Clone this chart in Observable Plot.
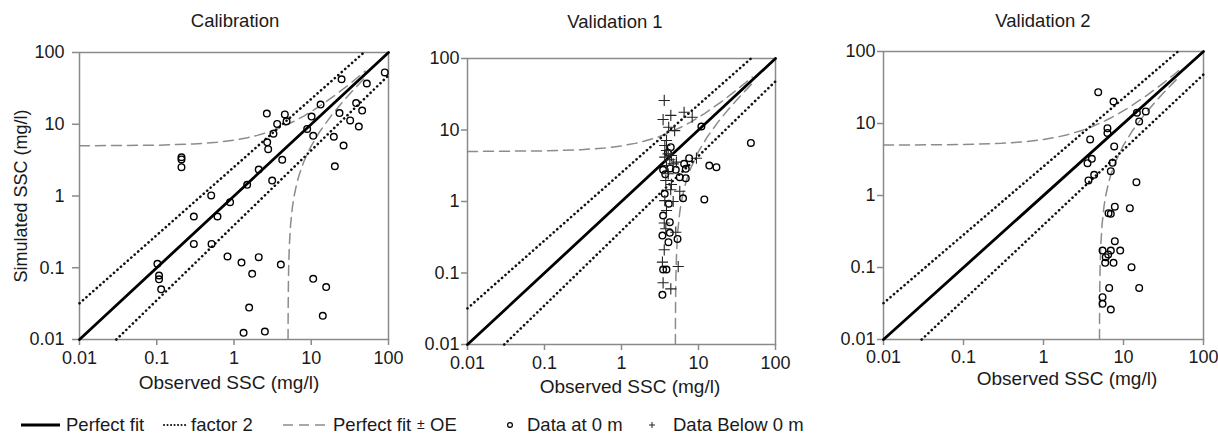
<!DOCTYPE html>
<html><head><meta charset="utf-8">
<script src="https://cdn.jsdelivr.net/npm/d3@7"></script>
<script src="https://cdn.jsdelivr.net/npm/@observablehq/plot@0.6"></script>
<style>
body{margin:0;background:#fff;}
#wrap{position:relative;width:1218px;height:435px;overflow:hidden;font-family:"Liberation Sans",Arial,sans-serif;background:#fff;}
.panel{position:absolute;top:0;}
#overlay{position:absolute;left:0;top:0;}
</style></head><body><div id="wrap"></div>
<script>
// ---- data ----
const tickValues = [0.01, 0.1, 1, 10, 100];
const tickLabels = ["0.01", "0.1", "1", "10", "100"];
const titles = ["Calibration", "Validation 1", "Validation 2"];
const xLabel = "Observed SSC (mg/l)";
const yLabel = "Simulated SSC (mg/l)";
const legendLabels = ["Perfect fit", "factor 2", "Perfect fit", "OE", "Data at 0 m", "Data Below 0 m"];

const OE = 5;
const perfectObs = [0.01, 100];
const factorUpperObs = [0.01, 48];
const factorUpperSim = [0.032, 100];
const factorLowerObs = [0.03, 100];
const factorLowerSim = [0.01, 48];
const oeUpperObs = [0.01, 0.1, 0.3, 0.6, 1, 1.5, 2, 3, 4, 6, 8, 12, 20, 30, 50];
const oeLowerObs = [5.01, 5.02, 5.05, 5.1, 5.2, 5.4, 5.7, 6, 6.5, 7, 8, 10, 13, 18, 25, 35, 50];

const calObs = [2.66, 4.55, 4.79, 3.62, 3.24, 2.69, 2.77, 2.09, 4.21, 3.12, 1.48, 0.507, 0.89, 0.209, 0.209, 0.209, 8.85, 10.1, 13.2, 10.6, 24.7, 89.5, 52.4, 38.1, 23.2, 45.6, 31.9, 41.3, 19.6, 26.2, 20.2, 0.302, 0.611, 0.302, 0.512, 0.102, 0.107, 0.107, 0.114, 0.824, 1.25, 2.09, 1.72, 4.04, 1.57, 1.33, 2.51, 10.6, 15.6, 14.1];
const calSim = [14.1, 13.7, 11.0, 10.1, 7.4, 5.6, 4.5, 2.34, 3.2, 1.64, 1.43, 1.02, 0.82, 3.47, 3.23, 2.52, 8.6, 12.8, 18.8, 6.9, 42.4, 52.7, 37, 19.7, 14.3, 15.5, 11.3, 9.3, 6.7, 5.06, 2.6, 0.518, 0.518, 0.215, 0.215, 0.1135, 0.078, 0.069, 0.050, 0.1436, 0.118, 0.1406, 0.0824, 0.111, 0.0279, 0.0124, 0.0129, 0.070, 0.0537, 0.0214];

const v1Obs = [10.9, 47.9, 13.8, 17.1, 11.9, 7.56, 6.5, 6.84, 6.84, 5.7, 6.3, 5.07, 4.36, 3.47, 3.64, 4.11, 3.47, 4.24, 4.24, 3.4, 4.07, 5.34, 3.47, 3.84, 3.4, 4.0, 3.7, 4.3];
const v1Sim = [11.2, 6.6, 3.18, 3.02, 1.07, 4.03, 3.36, 2.86, 2.12, 2.19, 1.11, 2.77, 5.75, 2.77, 1.28, 0.93, 0.637, 0.514, 0.365, 0.334, 0.27, 0.30, 0.112, 0.112, 0.0495, 4.8, 2.4, 2.9];
const v1BelowObs = [3.59, 4.37, 3.47, 6.5, 8.28, 4.1, 4.9, 3.84, 3.65, 3.84, 4.04, 4.45, 3.65, 4.24, 4.69, 5.17, 3.84, 4.04, 3.76, 4.36, 5.71, 4.69, 3.65, 9.4, 4.45, 3.59, 3.59, 3.4, 5.45, 3.47, 4.37, 5.07, 3.84, 3.76];
const v1BelowSim = [25.9, 16, 14, 17.7, 15.1, 10.9, 9.8, 7.13, 6.07, 5.17, 4.64, 4.4, 4.17, 3.83, 3.36, 3.55, 3.19, 2.44, 1.97, 1.46, 1.39, 1.0, 1.03, 4.03, 1.73, 0.50, 0.211, 0.142, 0.123, 0.073, 0.060, 0.372, 0.75, 0.415];

const v2Obs = [4.83, 7.5, 14.7, 19.0, 15.7, 6.3, 6.3, 3.83, 7.65, 4.02, 3.55, 7.3, 6.94, 4.3, 3.65, 14.5, 7.79, 12.0, 6.5, 6.94, 7.79, 5.47, 6.94, 9.1, 6.44, 6.0, 5.9, 7.5, 12.6, 6.62, 15.7, 5.47, 5.47, 6.94];
const v2Sim = [27.2, 20.2, 14.1, 14.7, 10.7, 8.6, 7.4, 6.0, 4.8, 3.23, 2.81, 2.84, 2.18, 1.94, 1.62, 1.53, 0.70, 0.667, 0.568, 0.557, 0.232, 0.172, 0.172, 0.172, 0.152, 0.139, 0.116, 0.116, 0.101, 0.052, 0.052, 0.0387, 0.0313, 0.0261];

// ---- helpers ----
const zip = (xs, ys) => xs.map((x, i) => ({x, y: ys[i]}));
const fmt = d => tickLabels[tickValues.findIndex(v => Math.abs(v - d) < v * 1e-6)];
const FONT = "'Liberation Sans', Arial, Helvetica, sans-serif";
const GREY = "#8a8a8a";
const DOT_STYLE = {strokeDasharray: "0.1,4.5", strokeLinecap: "round", strokeWidth: 2.6, stroke: "#111"};
const DASH_STYLE = {strokeDasharray: "10,6", strokeWidth: 1.5, stroke: "#8c8c8c"};

const panels = [
  {left: 0, margin: {l: 79, r: 18, t: 52, b: 61}, ySize: 7, yPad: 8, xPad: 6, circles: zip(calObs, calSim), plus: []},
  {left: 406, margin: {l: 61, r: 37, t: 58, b: 56}, ySize: 6, yPad: 2, xPad: 6, circles: zip(v1Obs, v1Sim), plus: zip(v1BelowObs, v1BelowSim)},
  {left: 812, margin: {l: 71, r: 15, t: 51, b: 61}, ySize: 6, yPad: 2, xPad: 5, circles: zip(v2Obs, v2Sim), plus: []}
];

const wrap = document.getElementById("wrap");

panels.forEach((p) => {
  const chart = Plot.plot({
    width: 406,
    height: 400,
    marginLeft: p.margin.l,
    marginRight: p.margin.r,
    marginTop: p.margin.t,
    marginBottom: p.margin.b,
    style: {fontFamily: FONT, fontSize: "18px", background: "transparent", color: "#1a1a1a", overflow: "visible"},
    x: {type: "log", domain: [0.01, 100]},
    y: {type: "log", domain: [0.01, 100]},
    marks: [
      Plot.axisX(tickValues, {tickFormat: fmt, tickSize: 6, tickPadding: p.xPad, fontSize: 18, stroke: GREY, strokeWidth: 1.5, fill: "#1a1a1a", label: null}),
      Plot.axisY(tickValues, {tickFormat: fmt, tickSize: p.ySize, tickPadding: p.yPad, fontSize: 18, stroke: GREY, strokeWidth: 1.5, fill: "#1a1a1a", label: null}),
      Plot.frame({stroke: GREY, strokeWidth: 1.5}),
      Plot.line(oeUpperObs.map(x => ({x, y: x + OE})), {x: "x", y: "y", ...DASH_STYLE}),
      Plot.line(oeLowerObs.map(x => ({x, y: x - OE})), {x: "x", y: "y", ...DASH_STYLE, clip: true}),
      Plot.line(zip(factorUpperObs, factorUpperSim), {x: "x", y: "y", ...DOT_STYLE}),
      Plot.line(zip(factorLowerObs, factorLowerSim), {x: "x", y: "y", ...DOT_STYLE}),
      Plot.line(zip(perfectObs, perfectObs), {x: "x", y: "y", stroke: "#000", strokeWidth: 2.8}),
      Plot.dot(p.circles, {x: "x", y: "y", r: 3.3, stroke: "#000", strokeWidth: 1.4, fill: "none"}),
      Plot.dot(p.plus, {x: "x", y: "y", symbol: "plus", r: 3.7, stroke: "#222", strokeWidth: 1.1})
    ]
  });
  const div = document.createElement("div");
  div.className = "panel";
  div.style.left = p.left + "px";
  div.appendChild(chart);
  wrap.appendChild(div);
});

// ---- titles, axis labels and legend ----
const svg = d3.select(wrap).append("svg").attr("id", "overlay")
  .attr("width", 1218).attr("height", 435)
  .style("font-family", FONT).style("overflow", "visible");

const titlePos = [[235, 27], [615, 28], [1043, 27]];
titles.forEach((t, i) => svg.append("text").attr("x", titlePos[i][0]).attr("y", titlePos[i][1])
  .attr("text-anchor", "middle").attr("font-size", 18.5).attr("fill", "#1a1a1a").text(t));

const xLabelPos = [[229, 389], [630, 393], [1067, 385]];
xLabelPos.forEach(([x, y]) => svg.append("text").attr("x", x).attr("y", y)
  .attr("text-anchor", "middle").attr("font-size", 19).attr("fill", "#1a1a1a").text(xLabel));

svg.append("text").attr("transform", "translate(27,196) rotate(-90)")
  .attr("text-anchor", "middle").attr("font-size", 18).attr("fill", "#1a1a1a").text(yLabel);

// legend
const ly = 425, lb = 431;
const lg = svg.append("g").attr("font-size", 18.5).attr("fill", "#1a1a1a");
lg.append("line").attr("x1", 21).attr("x2", 60).attr("y1", ly).attr("y2", ly).attr("stroke", "#000").attr("stroke-width", 2.8);
lg.append("text").attr("x", 66).attr("y", lb).text(legendLabels[0]);
lg.append("line").attr("x1", 164).attr("x2", 188).attr("y1", ly).attr("y2", ly).attr("stroke", "#111")
  .attr("stroke-width", 2).attr("stroke-dasharray", "0.1,3.4").attr("stroke-linecap", "round");
lg.append("text").attr("x", 191).attr("y", lb).text(legendLabels[1]);
lg.append("line").attr("x1", 283).attr("x2", 331).attr("y1", ly).attr("y2", ly).attr("stroke", "#8c8c8c")
  .attr("stroke-width", 1.5).attr("stroke-dasharray", "10,6");
lg.append("text").attr("x", 333).attr("y", lb).text(legendLabels[2]);
lg.append("text").attr("x", 417).attr("y", lb - 2).attr("font-size", 14).text("±");
lg.append("text").attr("x", 430).attr("y", lb).text(legendLabels[3]);
lg.append("circle").attr("cx", 510).attr("cy", ly).attr("r", 2.4).attr("fill", "none").attr("stroke", "#000").attr("stroke-width", 1.2);
lg.append("text").attr("x", 527).attr("y", lb).text(legendLabels[4]);
lg.append("path").attr("d", `M${652 - 3},${ly}H${652 + 3}M652,${ly - 3}V${ly + 3}`).attr("stroke", "#222").attr("stroke-width", 1);
lg.append("text").attr("x", 673).attr("y", lb).text(legendLabels[5]);
</script>
</body></html>
